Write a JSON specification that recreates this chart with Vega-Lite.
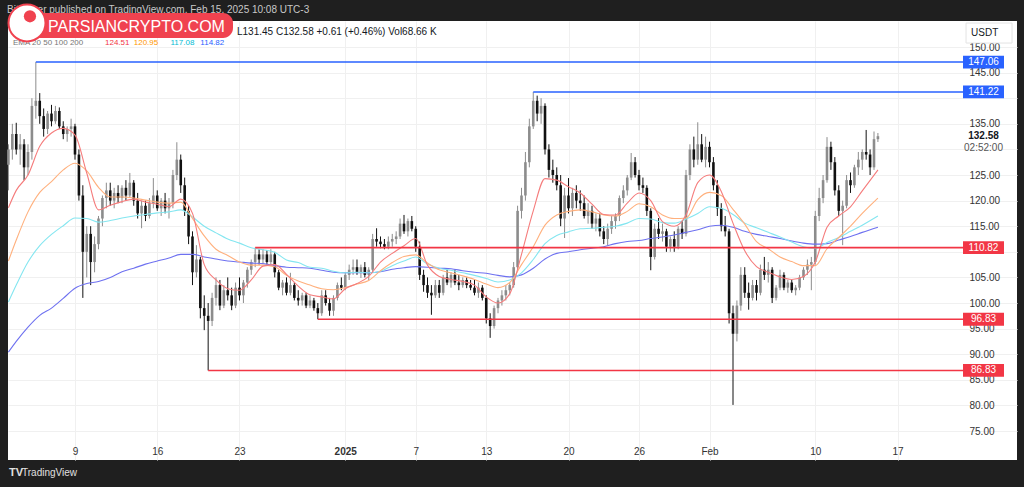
{
  "$schema": "https://vega.github.io/schema/vega-lite/v6.json",
  "width": 1009,
  "height": 439,
  "autosize": {"type": "none"},
  "padding": {"left": 8, "top": 21, "right": 7, "bottom": 27},
  "background": "#1f1f1f",
  "config": {"view": {"fill": "#ffffff", "stroke": null}, "font": "Liberation Sans",
    "scale": {"continuousPadding": 0},
    "axis": {"labelBound": false, "labelFlush": false, "labelSeparation": 0}},
  "data": {"values": [{}]},
  "datasets": {
    "candles": "t,o,h,l,c\n2024-12-03T08:00,127,131,122,130\n2024-12-03T16:00,130,135,128,133\n2024-12-04T00:00,133,135.2,129,130\n2024-12-04T08:00,130,133,127,131\n2024-12-04T16:00,131,132,124,126.5\n2024-12-05T00:00,126.5,131,125,129.5\n2024-12-05T08:00,129.5,140,128,138.5\n2024-12-05T16:00,138.5,147.06,136,139.5\n2024-12-06T00:00,139.5,141,135,136.5\n2024-12-06T08:00,136.5,138,132.5,134\n2024-12-06T16:00,134,137.5,133,137\n2024-12-07T00:00,137,138.7,134.5,135.5\n2024-12-07T08:00,135.5,138.5,135,137.5\n2024-12-07T16:00,137.5,138.2,134,134.5\n2024-12-08T00:00,134.5,135.5,132,133\n2024-12-08T08:00,133,134.5,131.5,134\n2024-12-08T16:00,134,136,132.5,134.5\n2024-12-09T00:00,134.5,135,128,129\n2024-12-09T08:00,129,130,120,121\n2024-12-09T16:00,121,123,101,110\n2024-12-10T00:00,110,115,105,113.5\n2024-12-10T08:00,113.5,115,103.5,108\n2024-12-10T16:00,108,113,106,111.5\n2024-12-11T00:00,111.5,117,110.5,116.5\n2024-12-11T08:00,116.5,121,115,120.5\n2024-12-11T16:00,120.5,123.5,118.5,122\n2024-12-12T00:00,122,123.5,119,120\n2024-12-12T08:00,120,122.5,118.5,121.5\n2024-12-12T16:00,121.5,123,119.5,120.5\n2024-12-13T00:00,120.5,123,119.5,122.5\n2024-12-13T08:00,122.5,124,120,121\n2024-12-13T16:00,121,125.4,120.5,123.5\n2024-12-14T00:00,123.5,124,119,120\n2024-12-14T08:00,120,121.5,116.5,117.5\n2024-12-14T16:00,117.5,120,114.6,119\n2024-12-15T00:00,119,120,116,117\n2024-12-15T08:00,117,120.5,116.5,119.5\n2024-12-15T16:00,119.5,124.4,118.5,121\n2024-12-16T00:00,121,122,118,118.5\n2024-12-16T08:00,118.5,120.5,117,120\n2024-12-16T16:00,120,121.5,117.5,118.5\n2024-12-17T00:00,118.5,120.5,116.5,119.5\n2024-12-17T08:00,119.5,126,118.5,125\n2024-12-17T16:00,125,131.4,124,128\n2024-12-18T00:00,128,129,121.5,123\n2024-12-18T08:00,123,124.5,117,118\n2024-12-18T16:00,118,119,111.5,113\n2024-12-19T00:00,113,114,103.5,106\n2024-12-19T08:00,106,111.3,105,108.5\n2024-12-19T16:00,108.5,109,97,99\n2024-12-20T00:00,99,101.5,94.7,97.5\n2024-12-20T08:00,97.5,100,86.83,96.5\n2024-12-20T16:00,96.5,102,95.5,101\n2024-12-21T00:00,101,105,99.5,103.5\n2024-12-21T08:00,103.5,104.5,98.6,99.5\n2024-12-21T16:00,99.5,103.5,99,102.5\n2024-12-22T00:00,102.5,105,100.5,101.5\n2024-12-22T08:00,101.5,103,98.6,99.5\n2024-12-22T16:00,99.5,104,99,103\n2024-12-23T00:00,103,105,100.5,101.5\n2024-12-23T08:00,101.5,104.5,100,104\n2024-12-23T16:00,104,107,103,106.5\n2024-12-24T00:00,106.5,108.5,105.5,108\n2024-12-24T08:00,108,110.82,107,109.5\n2024-12-24T16:00,109.5,110.5,107.5,108.5\n2024-12-25T00:00,108.5,110.5,107.8,109.5\n2024-12-25T08:00,109.5,110.3,107.5,108\n2024-12-25T16:00,108,110.5,107.5,109.5\n2024-12-26T00:00,109.5,110,105,106\n2024-12-26T08:00,106,106.5,102.5,103\n2024-12-26T16:00,103,104.5,101.5,104\n2024-12-27T00:00,104,105,101.5,102\n2024-12-27T08:00,102,105.9,101.5,103.5\n2024-12-27T16:00,103.5,104,100.5,101\n2024-12-28T00:00,101,102.5,99.5,100.5\n2024-12-28T08:00,100.5,102,99.5,101.5\n2024-12-28T16:00,101.5,102,99,99.5\n2024-12-29T00:00,99.5,101.5,99,100.5\n2024-12-29T08:00,100.5,101,98.5,99\n2024-12-29T16:00,99,100,96.83,98\n2024-12-30T00:00,98,102.5,97.5,101.5\n2024-12-30T08:00,101.5,102.5,99.5,100\n2024-12-30T16:00,100,101,97.5,98.5\n2024-12-31T00:00,98.5,101.5,97.5,101\n2024-12-31T08:00,101,104,100.5,103.5\n2024-12-31T16:00,103.5,105,102.5,103\n2025-01-01T00:00,103,106,102.5,105.5\n2025-01-01T08:00,105.5,107.5,104.5,106.5\n2025-01-01T16:00,106.5,108.5,105.5,107\n2025-01-02T00:00,107,108.5,105.5,106\n2025-01-02T08:00,106,107.5,104.9,107\n2025-01-02T16:00,107,108,105,105.5\n2025-01-03T00:00,105.5,107,104.5,106.5\n2025-01-03T08:00,106.5,113.5,106,112.5\n2025-01-03T16:00,112.5,114.6,111,112\n2025-01-04T00:00,112,113,110.7,111.5\n2025-01-04T08:00,111.5,112.5,110.5,111\n2025-01-04T16:00,111,113,110.5,112\n2025-01-05T00:00,112,113.5,111,112.5\n2025-01-05T08:00,112.5,114,111.5,113\n2025-01-05T16:00,113,116.5,112.5,115.5\n2025-01-06T00:00,115.5,117.2,113.5,114\n2025-01-06T08:00,114,116.5,113,116\n2025-01-06T16:00,116,117,114,114.5\n2025-01-07T00:00,114.5,115,110,111\n2025-01-07T08:00,111,112,104.5,105.5\n2025-01-07T16:00,105.5,106.5,102.2,103.5\n2025-01-08T00:00,103.5,105,101,102\n2025-01-08T08:00,102,103.5,97.7,101.5\n2025-01-08T16:00,101.5,104.5,101,103.5\n2025-01-09T00:00,103.5,104.5,101,102\n2025-01-09T08:00,102,105.5,101.5,105\n2025-01-09T16:00,105,106.5,103.5,104\n2025-01-10T00:00,104,106,103,105.5\n2025-01-10T08:00,105.5,106.5,103.5,104\n2025-01-10T16:00,104,105.5,102.5,103.5\n2025-01-11T00:00,103.5,105,103,104.5\n2025-01-11T08:00,104.5,105,102.9,103.5\n2025-01-11T16:00,103.5,104.5,102.5,103\n2025-01-12T00:00,103,104.5,101.5,102\n2025-01-12T08:00,102,104,101,103\n2025-01-12T16:00,103,103.5,100.5,101\n2025-01-13T00:00,101,101.5,96,97\n2025-01-13T08:00,97,98,93.2,95.5\n2025-01-13T16:00,95.5,99.5,95,99\n2025-01-14T00:00,99,101,98,100.5\n2025-01-14T08:00,100.5,102.5,99.5,101.5\n2025-01-14T16:00,101.5,103.5,100.5,102.5\n2025-01-15T00:00,102.5,104,101.5,103.5\n2025-01-15T08:00,103.5,108,103,107\n2025-01-15T16:00,107,119,106.5,118\n2025-01-16T00:00,118,122.5,116.5,121\n2025-01-16T08:00,121,129.5,120,127.5\n2025-01-16T16:00,127.5,136,126.5,134.5\n2025-01-17T00:00,134.5,141.22,134,139.5\n2025-01-17T08:00,139.5,140.5,135.5,137\n2025-01-17T16:00,137,140,135,138.5\n2025-01-18T00:00,138.5,139,129,130\n2025-01-18T08:00,130,131,124.5,126\n2025-01-18T16:00,126,128,123.5,125\n2025-01-19T00:00,125,126.5,122,123\n2025-01-19T08:00,123,125,115,116.5\n2025-01-19T16:00,116.5,122.5,112.7,121\n2025-01-20T00:00,121,124.4,117.5,118.5\n2025-01-20T08:00,118.5,122.5,117,121.5\n2025-01-20T16:00,121.5,123,118.5,120\n2025-01-21T00:00,120,122,118,119.5\n2025-01-21T08:00,119.5,121,116.5,117\n2025-01-21T16:00,117,119.5,115.5,118\n2025-01-22T00:00,118,119,114.5,115.5\n2025-01-22T08:00,115.5,117.5,114,116.5\n2025-01-22T16:00,116.5,117.5,113,114\n2025-01-23T00:00,114,115,111.5,112.5\n2025-01-23T08:00,112.5,115.5,111.3,114.5\n2025-01-23T16:00,114.5,117,113.5,116\n2025-01-24T00:00,116,117.5,114.5,117\n2025-01-24T08:00,117,121,116,120.5\n2025-01-24T16:00,120.5,123,119.5,122\n2025-01-25T00:00,122,125,121,124.5\n2025-01-25T08:00,124.5,129.3,124,127.5\n2025-01-25T16:00,127.5,128.5,124.5,125\n2025-01-26T00:00,125,126,122,123\n2025-01-26T08:00,123,124.5,121.5,122.5\n2025-01-26T16:00,122.5,123,117,118\n2025-01-27T00:00,118,118.5,106.4,109\n2025-01-27T08:00,109,115.5,108.5,114.5\n2025-01-27T16:00,114.5,116.6,112.5,113.5\n2025-01-28T00:00,113.5,115.5,112,114\n2025-01-28T08:00,114,114.5,110,111\n2025-01-28T16:00,111,113,110,112.5\n2025-01-29T00:00,112.5,114,110,111\n2025-01-29T08:00,111,115,110.5,114.5\n2025-01-29T16:00,114.5,116,112.5,113.5\n2025-01-30T00:00,113.5,126,113,125\n2025-01-30T08:00,125,131,124,130\n2025-01-30T16:00,130,132.5,126.5,128\n2025-01-31T00:00,128,135.3,127,131\n2025-01-31T08:00,131,133,127.5,128\n2025-01-31T16:00,128,132.5,126.5,130.5\n2025-02-01T00:00,130.5,131.5,126.5,127.5\n2025-02-01T08:00,127.5,128.5,122,123\n2025-02-01T16:00,123,124,117,118.5\n2025-02-02T00:00,118.5,119.5,114,115\n2025-02-02T08:00,115,117,113,114\n2025-02-02T16:00,114,114.5,96,98\n2025-02-03T00:00,98,99.5,80.1,94\n2025-02-03T08:00,94,100.5,92.5,99.5\n2025-02-03T16:00,99.5,107,98.5,105.5\n2025-02-04T00:00,105.5,107,101,102\n2025-02-04T08:00,102,104,98.7,101\n2025-02-04T16:00,101,104.5,100.5,103.5\n2025-02-05T00:00,103.5,104.5,100.5,102\n2025-02-05T08:00,102,107.5,101.5,106.5\n2025-02-05T16:00,106.5,109,104.5,105.5\n2025-02-06T00:00,105.5,108,104,106.5\n2025-02-06T08:00,106.5,107,100,101\n2025-02-06T16:00,101,103.5,100.5,103\n2025-02-07T00:00,103,106.5,102.5,105.5\n2025-02-07T08:00,105.5,106,102.5,103\n2025-02-07T16:00,103,104.5,102,104\n2025-02-08T00:00,104,104.5,102,102.5\n2025-02-08T08:00,102.5,103.5,101.5,103\n2025-02-08T16:00,103,105.5,102.5,105\n2025-02-09T00:00,105,107,104.5,106.5\n2025-02-09T08:00,106.5,108.5,105.5,107.5\n2025-02-09T16:00,107.5,109,102.5,108\n2025-02-10T00:00,108,118,107.5,117\n2025-02-10T08:00,117,122.5,116,120.5\n2025-02-10T16:00,120.5,125,119.5,124\n2025-02-11T00:00,124,132.4,123.5,130.5\n2025-02-11T08:00,130.5,131.5,126,127.5\n2025-02-11T16:00,127.5,128.5,121,122\n2025-02-12T00:00,122,123,117,118\n2025-02-12T08:00,118,120,111.3,119\n2025-02-12T16:00,119,125,118.5,124\n2025-02-13T00:00,124,125.5,121.5,123\n2025-02-13T08:00,123,127,122.5,126.5\n2025-02-13T16:00,126.5,129.5,125,128\n2025-02-14T00:00,128,130,126,129.5\n2025-02-14T08:00,129.5,133.8,128,129\n2025-02-14T16:00,129,130,125,126.5\n2025-02-15T00:00,126.5,133.5,126,132\n2025-02-15T08:00,132,133.2,131.45,132.58",
    "ema": "t,ema20,ema50,ema100,ema200\n2024-12-03T08:00,118.6,108.2,100.2,90.4\n2024-12-04T00:00,122,112.3,103.5,92.5\n2024-12-05T00:00,125,117.8,108,95.3\n2024-12-06T00:00,130.6,121.6,111.2,97.6\n2024-12-07T00:00,133.2,123.7,113.4,99\n2024-12-08T00:00,134.1,126,115.1,100.9\n2024-12-09T00:00,132.8,127.3,116.6,102.9\n2024-12-10T00:00,125.4,125.8,116.5,103.8\n2024-12-11T00:00,118.2,122.6,115.8,104.2\n2024-12-12T00:00,119.1,120.7,116.1,105\n2024-12-13T00:00,119.8,120.7,116.6,106.1\n2024-12-14T00:00,120.3,120.5,117,106.8\n2024-12-15T00:00,119.7,120.1,117.3,107.6\n2024-12-16T00:00,119.3,119.7,117.6,108.2\n2024-12-17T00:00,118.8,119.5,117.8,108.8\n2024-12-18T00:00,120.3,119.7,118.2,109.5\n2024-12-19T00:00,117.5,116.5,116.8,109.5\n2024-12-20T00:00,107.5,113.1,115,109\n2024-12-21T00:00,104.5,110.5,113.7,108.6\n2024-12-22T00:00,102.8,109.3,112.5,108.2\n2024-12-23T00:00,102.5,108,111.7,108\n2024-12-24T00:00,104.5,107.4,110.8,107.8\n2024-12-25T00:00,107.2,107.4,110.4,107.7\n2024-12-26T00:00,107.5,107.1,109.9,107.3\n2024-12-27T00:00,105.6,105.4,108.4,107\n2024-12-28T00:00,103.3,104.3,107.9,106.9\n2024-12-29T00:00,101.6,103.5,107,106.8\n2024-12-30T00:00,101.2,102.8,106.8,106.4\n2024-12-31T00:00,100.8,102.6,106.2,106\n2025-01-01T00:00,102.8,103,105.9,105.9\n2025-01-02T00:00,103.8,103.7,106,105.9\n2025-01-03T00:00,105.2,104.4,105.9,105.9\n2025-01-04T00:00,108,106.3,106.2,106.1\n2025-01-05T00:00,109.7,107.9,107.3,106.6\n2025-01-06T00:00,111.2,109.1,108.2,106.9\n2025-01-07T00:00,112.6,109.4,109,107.1\n2025-01-08T00:00,107.4,107.8,107.6,107\n2025-01-09T00:00,105.2,106.5,106.8,106.8\n2025-01-10T00:00,104.6,105.9,106.4,106.7\n2025-01-11T00:00,104.2,105.3,105.9,106.3\n2025-01-12T00:00,103.5,104.6,105.4,106\n2025-01-13T00:00,101.2,103.7,104.8,105.8\n2025-01-14T00:00,100,103,104.1,105.4\n2025-01-15T00:00,101.8,104,104.5,105.1\n2025-01-16T00:00,109.5,107.5,105.9,105.5\n2025-01-17T00:00,118,111,108.5,106.8\n2025-01-18T00:00,124.3,115.2,111.6,108.6\n2025-01-19T00:00,124,117.2,113.2,109.7\n2025-01-20T00:00,122.7,117.9,113.9,110\n2025-01-21T00:00,121.5,118.2,114.5,110.4\n2025-01-22T00:00,119.3,117.8,114.6,110.7\n2025-01-23T00:00,117.3,117.2,114.8,111\n2025-01-24T00:00,117.2,117,115,111.6\n2025-01-25T00:00,119.5,117.9,115.6,112\n2025-01-26T00:00,121.5,119.4,116.5,112.2\n2025-01-27T00:00,120,118.8,116.4,112.6\n2025-01-28T00:00,115.9,117.2,115.7,112.9\n2025-01-29T00:00,115,116.5,115.6,113.3\n2025-01-30T00:00,117.2,116.6,116.4,113.8\n2025-01-31T00:00,123.5,120.2,117.5,114.3\n2025-02-01T00:00,125,121.6,118.8,115\n2025-02-02T00:00,121.8,121,118.5,115.2\n2025-02-03T00:00,115.6,118.3,117.3,114.8\n2025-02-04T00:00,110.2,115.4,115.6,114\n2025-02-05T00:00,107.1,112,114.7,113.4\n2025-02-06T00:00,106,110.6,113.8,113\n2025-02-07T00:00,105.1,109,112.9,112.6\n2025-02-08T00:00,104.6,108.1,111.9,112.1\n2025-02-09T00:00,105.2,107.3,111,111.7\n2025-02-10T00:00,108,107.3,110.7,111.5\n2025-02-11T00:00,114.8,110.6,111.8,111.6\n2025-02-12T00:00,117,112.8,112.8,112.3\n2025-02-13T00:00,118.8,115,114,113\n2025-02-14T00:00,121.9,117.5,115.2,113.8\n2025-02-15T08:00,126,120.5,117,114.8",
    "levels": [
      {"level": 147.06, "start": "2024-12-05T16:00", "kind": "high"},
      {"level": 141.22, "start": "2025-01-17T00:00", "kind": "high"},
      {"level": 110.82, "start": "2024-12-24T08:00", "kind": "low"},
      {"level": 96.83, "start": "2024-12-29T16:00", "kind": "low"},
      {"level": 86.83, "start": "2024-12-20T08:00", "kind": "low"}
    ]
  },
  "layer": [
    {
      "data": {"name": "candles", "format": {"type": "csv", "parse": {"t": "date", "o": "number", "h": "number", "l": "number", "c": "number"}}},
      "mark": {"type": "rule", "strokeWidth": 1},
      "encoding": {
        "x": {"field": "t", "type": "temporal", "title": null,
          "scale": {"domain": [{"year": 2024, "month": 12, "date": 3, "hours": 7, "minutes": 9}, {"year": 2025, "month": 2, "date": 27, "hours": 4, "minutes": 5}], "nice": false, "padding": 0},
          "axis": {"orient": "bottom", "offset": -14, "domain": false, "ticks": false, "tickSize": 0, "labelPadding": 0, "tickCount": 40,
            "values": [{"year": 2024, "month": 12, "date": 9}, {"year": 2024, "month": 12, "date": 16}, {"year": 2024, "month": 12, "date": 23}, {"year": 2025, "month": 1, "date": 1}, {"year": 2025, "month": 1, "date": 7}, {"year": 2025, "month": 1, "date": 13}, {"year": 2025, "month": 1, "date": 20}, {"year": 2025, "month": 1, "date": 26}, {"year": 2025, "month": 2, "date": 1}, {"year": 2025, "month": 2, "date": 10}, {"year": 2025, "month": 2, "date": 17}],
            "labelExpr": "date(datum.value) == 1 ? (month(datum.value) == 0 ? '2025' : timeFormat(datum.value, '%b')) : timeFormat(datum.value, '%-d')",
            "labelFontWeight": {"condition": {"test": "month(datum.value) == 0 && date(datum.value) == 1", "value": "bold"}, "value": "normal"},
            "labelFontSize": 10, "labelColor": "#333333", "labelFont": "Liberation Sans", "grid": true, "gridColor": "#f0f0f0", "labelFlush": false, "labelOverlap": false}},
        "y": {"field": "l", "type": "quantitative", "title": null,
          "scale": {"domain": [69.34, 155.08], "nice": false, "zero": false},
          "axis": {"orient": "right", "offset": -48, "domain": false, "ticks": false, "tickSize": 0, "labelPadding": 0, "labelAlign": "left", "labelBaseline": "middle", "tickCount": 40,
            "values": [75, 80, 85, 90, 95, 100, 105, 110, 115, 120, 125, 130, 135, 140, 145, 150],
            "labelExpr": "(datum.value == 110 || datum.value == 130 || datum.value == 140) ? '' : format(datum.value, '.2f')",
            "labelFontSize": 10, "labelColor": "#333333", "labelFont": "Liberation Sans", "grid": true, "gridColor": "#f0f0f0", "labelOverlap": false, "labelFlush": false}},
        "y2": {"field": "h"},
        "color": {"condition": {"test": "datum.c >= datum.o", "value": "#8c8c8c"}, "value": "#111111"}
      }
    },
    {
      "data": {"name": "candles", "format": {"type": "csv", "parse": {"t": "date", "o": "number", "h": "number", "l": "number", "c": "number"}}},
      "mark": {"type": "bar", "size": 2.6},
      "encoding": {
        "x": {"field": "t", "type": "temporal", "title": null, "scale": {"domain": [{"year": 2024, "month": 12, "date": 3, "hours": 7, "minutes": 9}, {"year": 2025, "month": 2, "date": 27, "hours": 4, "minutes": 5}], "nice": false, "padding": 0}},
        "y": {"field": "o", "type": "quantitative", "title": null, "scale": {"domain": [69.34, 155.08], "nice": false, "zero": false}},
        "y2": {"field": "c"},
        "color": {"condition": {"test": "datum.c >= datum.o", "value": "#8c8c8c"}, "value": "#111111"}
      }
    },
    {
      "data": {"name": "ema", "format": {"type": "csv", "parse": {"t": "date", "ema20": "number", "ema50": "number", "ema100": "number", "ema200": "number"}}},
      "mark": {"type": "line", "color": "#6e71f0", "strokeWidth": 1.1, "interpolate": "monotone"},
      "encoding": {
        "x": {"field": "t", "type": "temporal", "title": null, "scale": {"domain": [{"year": 2024, "month": 12, "date": 3, "hours": 7, "minutes": 9}, {"year": 2025, "month": 2, "date": 27, "hours": 4, "minutes": 5}], "nice": false, "padding": 0}},
        "y": {"field": "ema200", "type": "quantitative", "title": null, "scale": {"domain": [69.34, 155.08], "nice": false, "zero": false}}
      }
    },
    {
      "data": {"name": "ema", "format": {"type": "csv", "parse": {"t": "date", "ema20": "number", "ema50": "number", "ema100": "number", "ema200": "number"}}},
      "mark": {"type": "line", "color": "#84e6f0", "strokeWidth": 1.1, "interpolate": "monotone"},
      "encoding": {
        "x": {"field": "t", "type": "temporal", "title": null, "scale": {"domain": [{"year": 2024, "month": 12, "date": 3, "hours": 7, "minutes": 9}, {"year": 2025, "month": 2, "date": 27, "hours": 4, "minutes": 5}], "nice": false, "padding": 0}},
        "y": {"field": "ema100", "type": "quantitative", "title": null, "scale": {"domain": [69.34, 155.08], "nice": false, "zero": false}}
      }
    },
    {
      "data": {"name": "ema", "format": {"type": "csv", "parse": {"t": "date", "ema20": "number", "ema50": "number", "ema100": "number", "ema200": "number"}}},
      "mark": {"type": "line", "color": "#ffb07d", "strokeWidth": 1.1, "interpolate": "monotone"},
      "encoding": {
        "x": {"field": "t", "type": "temporal", "title": null, "scale": {"domain": [{"year": 2024, "month": 12, "date": 3, "hours": 7, "minutes": 9}, {"year": 2025, "month": 2, "date": 27, "hours": 4, "minutes": 5}], "nice": false, "padding": 0}},
        "y": {"field": "ema50", "type": "quantitative", "title": null, "scale": {"domain": [69.34, 155.08], "nice": false, "zero": false}}
      }
    },
    {
      "data": {"name": "ema", "format": {"type": "csv", "parse": {"t": "date", "ema20": "number", "ema50": "number", "ema100": "number", "ema200": "number"}}},
      "mark": {"type": "line", "color": "#f57c7c", "strokeWidth": 1.1, "interpolate": "monotone"},
      "encoding": {
        "x": {"field": "t", "type": "temporal", "title": null, "scale": {"domain": [{"year": 2024, "month": 12, "date": 3, "hours": 7, "minutes": 9}, {"year": 2025, "month": 2, "date": 27, "hours": 4, "minutes": 5}], "nice": false, "padding": 0}},
        "y": {"field": "ema20", "type": "quantitative", "title": null, "scale": {"domain": [69.34, 155.08], "nice": false, "zero": false}}
      }
    },
    {
      "data": {"name": "levels", "format": {"parse": {"start": "date"}}},
      "mark": {"type": "rule", "strokeWidth": 1.6},
      "encoding": {
        "x": {"field": "start", "type": "temporal", "title": null, "scale": {"domain": [{"year": 2024, "month": 12, "date": 3, "hours": 7, "minutes": 9}, {"year": 2025, "month": 2, "date": 27, "hours": 4, "minutes": 5}], "nice": false, "padding": 0}},
        "x2": {"datum": {"year": 2025, "month": 2, "date": 23}},
        "y": {"field": "level", "type": "quantitative", "title": null, "scale": {"domain": [69.34, 155.08], "nice": false, "zero": false}},
        "color": {"condition": {"test": "datum.kind == 'high'", "value": "#2962ff"}, "value": "#f23645"}
      }
    },
    {
      "data": {"name": "levels"},
      "mark": {"type": "point", "shape": "M-1.6,-0.5H1.6V0.5H-1.6Z", "size": 656, "filled": true, "opacity": 1, "strokeWidth": 0},
      "encoding": {
        "x": {"datum": {"year": 2025, "month": 2, "date": 24, "hours": 7, "minutes": 40}, "type": "temporal", "scale": {"domain": [{"year": 2024, "month": 12, "date": 3, "hours": 7, "minutes": 9}, {"year": 2025, "month": 2, "date": 27, "hours": 4, "minutes": 5}], "nice": false, "padding": 0}},
        "y": {"field": "level", "type": "quantitative", "title": null, "scale": {"domain": [69.34, 155.08], "nice": false, "zero": false}},
        "color": {"condition": {"test": "datum.kind == 'high'", "value": "#2962ff"}, "value": "#f23645"}
      }
    },
    {
      "data": {"name": "levels"},
      "mark": {"type": "text", "color": "#ffffff", "fontSize": 10, "align": "center", "baseline": "middle"},
      "encoding": {
        "x": {"datum": {"year": 2025, "month": 2, "date": 24, "hours": 7, "minutes": 40}, "type": "temporal", "scale": {"domain": [{"year": 2024, "month": 12, "date": 3, "hours": 7, "minutes": 9}, {"year": 2025, "month": 2, "date": 27, "hours": 4, "minutes": 5}], "nice": false, "padding": 0}},
        "y": {"field": "level", "type": "quantitative", "title": null, "scale": {"domain": [69.34, 155.08], "nice": false, "zero": false}},
        "text": {"field": "level", "type": "quantitative", "format": ".2f"}
      }
    },
    {
      "mark": {"type": "text", "text": "132.58", "color": "#131722", "fontSize": 10, "fontWeight": "bold", "align": "center", "baseline": "middle"},
      "encoding": {
        "x": {"datum": {"year": 2025, "month": 2, "date": 24, "hours": 7, "minutes": 40}, "type": "temporal", "scale": {"domain": [{"year": 2024, "month": 12, "date": 3, "hours": 7, "minutes": 9}, {"year": 2025, "month": 2, "date": 27, "hours": 4, "minutes": 5}], "nice": false, "padding": 0}},
        "y": {"datum": 132.58, "type": "quantitative", "scale": {"domain": [69.34, 155.08], "nice": false, "zero": false}}
      }
    },
    {
      "mark": {"type": "text", "text": "02:52:00", "color": "#555555", "fontSize": 10, "align": "center", "baseline": "middle"},
      "encoding": {
        "x": {"datum": {"year": 2025, "month": 2, "date": 24, "hours": 7, "minutes": 40}, "type": "temporal", "scale": {"domain": [{"year": 2024, "month": 12, "date": 3, "hours": 7, "minutes": 9}, {"year": 2025, "month": 2, "date": 27, "hours": 4, "minutes": 5}], "nice": false, "padding": 0}},
        "y": {"datum": 130.3, "type": "quantitative", "scale": {"domain": [69.34, 155.08], "nice": false, "zero": false}}
      }
    },
    {
      "mark": {"type": "point", "shape": "M-2.3,-1H2.3V1H-2.3Z", "size": 400, "filled": true, "fill": "#ffffff", "stroke": "#e3e3e3", "strokeWidth": 1, "opacity": 1},
      "encoding": {
        "x": {"datum": {"year": 2025, "month": 2, "date": 24, "hours": 19, "minutes": 0}, "type": "temporal", "scale": {"domain": [{"year": 2024, "month": 12, "date": 3, "hours": 7, "minutes": 9}, {"year": 2025, "month": 2, "date": 27, "hours": 4, "minutes": 5}], "nice": false, "padding": 0}},
        "y": {"datum": 152.73, "type": "quantitative", "scale": {"domain": [69.34, 155.08], "nice": false, "zero": false}}
      }
    },
    {
      "mark": {"type": "text", "text": "USDT", "color": "#131722", "fontSize": 10, "align": "center", "baseline": "middle"},
      "encoding": {
        "x": {"datum": {"year": 2025, "month": 2, "date": 24, "hours": 10, "minutes": 0}, "type": "temporal", "scale": {"domain": [{"year": 2024, "month": 12, "date": 3, "hours": 7, "minutes": 9}, {"year": 2025, "month": 2, "date": 27, "hours": 4, "minutes": 5}], "nice": false, "padding": 0}},
        "y": {"datum": 152.73, "type": "quantitative", "scale": {"domain": [69.34, 155.08], "nice": false, "zero": false}}
      }
    },
    {
      "mark": {"type": "text", "text": "Bitmaker published on TradingView.com, Feb 15, 2025 10:08 UTC-3", "color": "#c8c8c8", "fontSize": 10, "align": "left", "baseline": "middle"},
      "encoding": {
        "x": {"datum": {"year": 2024, "month": 12, "date": 3, "hours": 5, "minutes": 7}, "type": "temporal", "scale": {"domain": [{"year": 2024, "month": 12, "date": 3, "hours": 7, "minutes": 9}, {"year": 2025, "month": 2, "date": 27, "hours": 4, "minutes": 5}], "nice": false, "padding": 0}},
        "y": {"datum": 157.2, "type": "quantitative", "scale": {"domain": [69.34, 155.08], "nice": false, "zero": false}}
      }
    },
    {
      "mark": {"type": "text", "text": "L131.45  C132.58  +0.61 (+0.46%)  Vol68.66 K", "color": "#131722", "fontSize": 10, "align": "left", "baseline": "middle"},
      "encoding": {
        "x": {"datum": {"year": 2024, "month": 12, "date": 22, "hours": 18, "minutes": 53}, "type": "temporal", "scale": {"domain": [{"year": 2024, "month": 12, "date": 3, "hours": 7, "minutes": 9}, {"year": 2025, "month": 2, "date": 27, "hours": 4, "minutes": 5}], "nice": false, "padding": 0}},
        "y": {"datum": 152.87, "type": "quantitative", "scale": {"domain": [69.34, 155.08], "nice": false, "zero": false}}
      }
    },
    {
      "mark": {"type": "text", "text": "EMA 20 50 100 200", "color": "#777777", "fontSize": 8, "align": "left", "baseline": "middle"},
      "encoding": {
        "x": {"datum": {"year": 2024, "month": 12, "date": 3, "hours": 17, "minutes": 21}, "type": "temporal", "scale": {"domain": [{"year": 2024, "month": 12, "date": 3, "hours": 7, "minutes": 9}, {"year": 2025, "month": 2, "date": 27, "hours": 4, "minutes": 5}], "nice": false, "padding": 0}},
        "y": {"datum": 150.72, "type": "quantitative", "scale": {"domain": [69.34, 155.08], "nice": false, "zero": false}}
      }
    },
    {
      "mark": {"type": "text", "text": "124.51", "color": "#f23645", "fontSize": 8, "align": "left", "baseline": "middle"},
      "encoding": {
        "x": {"datum": {"year": 2024, "month": 12, "date": 11, "hours": 13, "minutes": 16}, "type": "temporal", "scale": {"domain": [{"year": 2024, "month": 12, "date": 3, "hours": 7, "minutes": 9}, {"year": 2025, "month": 2, "date": 27, "hours": 4, "minutes": 5}], "nice": false, "padding": 0}},
        "y": {"datum": 150.72, "type": "quantitative", "scale": {"domain": [69.34, 155.08], "nice": false, "zero": false}}
      }
    },
    {
      "mark": {"type": "text", "text": "120.95", "color": "#ff9800", "fontSize": 8, "align": "left", "baseline": "middle"},
      "encoding": {
        "x": {"datum": {"year": 2024, "month": 12, "date": 14, "hours": 0, "minutes": 0}, "type": "temporal", "scale": {"domain": [{"year": 2024, "month": 12, "date": 3, "hours": 7, "minutes": 9}, {"year": 2025, "month": 2, "date": 27, "hours": 4, "minutes": 5}], "nice": false, "padding": 0}},
        "y": {"datum": 150.72, "type": "quantitative", "scale": {"domain": [69.34, 155.08], "nice": false, "zero": false}}
      }
    },
    {
      "mark": {"type": "text", "text": "117.08", "color": "#00bcd4", "fontSize": 8, "align": "left", "baseline": "middle"},
      "encoding": {
        "x": {"datum": {"year": 2024, "month": 12, "date": 17, "hours": 3, "minutes": 0}, "type": "temporal", "scale": {"domain": [{"year": 2024, "month": 12, "date": 3, "hours": 7, "minutes": 9}, {"year": 2025, "month": 2, "date": 27, "hours": 4, "minutes": 5}], "nice": false, "padding": 0}},
        "y": {"datum": 150.72, "type": "quantitative", "scale": {"domain": [69.34, 155.08], "nice": false, "zero": false}}
      }
    },
    {
      "mark": {"type": "text", "text": "114.82", "color": "#2962ff", "fontSize": 8, "align": "left", "baseline": "middle"},
      "encoding": {
        "x": {"datum": {"year": 2024, "month": 12, "date": 19, "hours": 16, "minutes": 0}, "type": "temporal", "scale": {"domain": [{"year": 2024, "month": 12, "date": 3, "hours": 7, "minutes": 9}, {"year": 2025, "month": 2, "date": 27, "hours": 4, "minutes": 5}], "nice": false, "padding": 0}},
        "y": {"datum": 150.72, "type": "quantitative", "scale": {"domain": [69.34, 155.08], "nice": false, "zero": false}}
      }
    },
    {
      "mark": {"type": "point", "shape": "M-3.86,-0.5H3.86A0.4,0.4 0 0 1 4.26,-0.1V0.1A0.4,0.4 0 0 1 3.86,0.5H-3.86A0.4,0.4 0 0 1 -4.26,0.1V-0.1A0.4,0.4 0 0 1 -3.86,-0.5Z", "size": 2500, "filled": true, "color": "#f0424f", "opacity": 1, "strokeWidth": 0},
      "encoding": {
        "x": {"datum": {"year": 2024, "month": 12, "date": 13, "hours": 9, "minutes": 12}, "type": "temporal", "scale": {"domain": [{"year": 2024, "month": 12, "date": 3, "hours": 7, "minutes": 9}, {"year": 2025, "month": 2, "date": 27, "hours": 4, "minutes": 5}], "nice": false, "padding": 0}},
        "y": {"datum": 154.2, "type": "quantitative", "scale": {"domain": [69.34, 155.08], "nice": false, "zero": false}}
      }
    },
    {
      "mark": {"type": "text", "text": "PARSIANCRYPTO.COM", "color": "#ffffff", "fontSize": 16, "align": "left", "baseline": "middle"},
      "encoding": {
        "x": {"datum": {"year": 2024, "month": 12, "date": 6, "hours": 16, "minutes": 51}, "type": "temporal", "scale": {"domain": [{"year": 2024, "month": 12, "date": 3, "hours": 7, "minutes": 9}, {"year": 2025, "month": 2, "date": 27, "hours": 4, "minutes": 5}], "nice": false, "padding": 0}},
        "y": {"datum": 154.0, "type": "quantitative", "scale": {"domain": [69.34, 155.08], "nice": false, "zero": false}}
      }
    },
    {
      "mark": {"type": "point", "shape": "circle", "size": 1369, "filled": true, "fill": "#ffffff", "stroke": "#f0424f", "strokeWidth": 2, "opacity": 1},
      "encoding": {
        "x": {"datum": {"year": 2024, "month": 12, "date": 4, "hours": 21, "minutes": 58}, "type": "temporal", "scale": {"domain": [{"year": 2024, "month": 12, "date": 3, "hours": 7, "minutes": 9}, {"year": 2025, "month": 2, "date": 27, "hours": 4, "minutes": 5}], "nice": false, "padding": 0}},
        "y": {"datum": 154.69, "type": "quantitative", "scale": {"domain": [69.34, 155.08], "nice": false, "zero": false}}
      }
    },
    {
      "mark": {"type": "point", "shape": "circle", "size": 150, "filled": true, "color": "#f0424f", "opacity": 1},
      "encoding": {
        "x": {"datum": {"year": 2024, "month": 12, "date": 5, "hours": 4, "minutes": 0}, "type": "temporal", "scale": {"domain": [{"year": 2024, "month": 12, "date": 3, "hours": 7, "minutes": 9}, {"year": 2025, "month": 2, "date": 27, "hours": 4, "minutes": 5}], "nice": false, "padding": 0}},
        "y": {"datum": 156.0, "type": "quantitative", "scale": {"domain": [69.34, 155.08], "nice": false, "zero": false}}
      }
    },
    {
      "mark": {"type": "text", "text": "TV", "color": "#e0e0e0", "fontSize": 11, "fontWeight": "bold", "align": "left", "baseline": "middle"},
      "encoding": {
        "x": {"datum": {"year": 2024, "month": 12, "date": 3, "hours": 9, "minutes": 11}, "type": "temporal", "scale": {"domain": [{"year": 2024, "month": 12, "date": 3, "hours": 7, "minutes": 9}, {"year": 2025, "month": 2, "date": 27, "hours": 4, "minutes": 5}], "nice": false, "padding": 0}},
        "y": {"datum": 66.8, "type": "quantitative", "scale": {"domain": [69.34, 155.08], "nice": false, "zero": false}}
      }
    },
    {
      "mark": {"type": "text", "text": "TradingView", "color": "#e0e0e0", "fontSize": 10, "align": "left", "baseline": "middle"},
      "encoding": {
        "x": {"datum": {"year": 2024, "month": 12, "date": 4, "hours": 11, "minutes": 45}, "type": "temporal", "scale": {"domain": [{"year": 2024, "month": 12, "date": 3, "hours": 7, "minutes": 9}, {"year": 2025, "month": 2, "date": 27, "hours": 4, "minutes": 5}], "nice": false, "padding": 0}},
        "y": {"datum": 66.8, "type": "quantitative", "scale": {"domain": [69.34, 155.08], "nice": false, "zero": false}}
      }
    }
  ]
}
